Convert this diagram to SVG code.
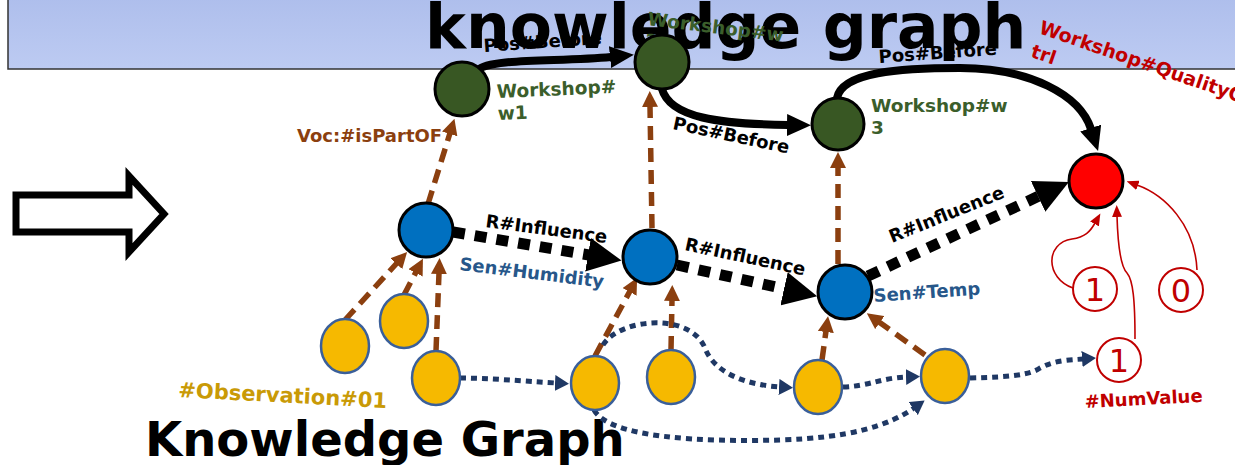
<svg xmlns="http://www.w3.org/2000/svg" width="1235" height="465" viewBox="0 0 1235 465">
  <defs>
    <linearGradient id="band" x1="0" y1="0" x2="0" y2="1">
      <stop offset="0" stop-color="#aebeec"/>
      <stop offset="1" stop-color="#bdcbf2"/>
    </linearGradient>
    <marker id="hPos" viewBox="0 0 24 22" markerWidth="24" markerHeight="22" refX="1" refY="11" orient="auto" markerUnits="userSpaceOnUse">
      <path d="M0,0 L24,11 L0,22 z" fill="#000"/>
    </marker>
    <marker id="hInf" viewBox="0 0 34 34" markerWidth="34" markerHeight="34" refX="1" refY="17" orient="auto" markerUnits="userSpaceOnUse">
      <path d="M0,0 L34,17 L0,34 z" fill="#000"/>
    </marker>
    <marker id="hPart" viewBox="0 0 16 16" markerWidth="16" markerHeight="16" refX="1" refY="8" orient="auto" markerUnits="userSpaceOnUse">
      <path d="M0,0 L16,8 L0,16 z" fill="#8b3f0f"/>
    </marker>
    <marker id="hSeq" viewBox="0 0 14 16" markerWidth="14" markerHeight="16" refX="1" refY="8" orient="auto" markerUnits="userSpaceOnUse">
      <path d="M0,0 L14,8 L0,16 z" fill="#1f3864"/>
    </marker>
    <marker id="hVal" viewBox="0 0 12 10" markerWidth="12" markerHeight="10" refX="1" refY="5" orient="auto" markerUnits="userSpaceOnUse">
      <path d="M0,0 L12,5 L0,10 z" fill="#c00000"/>
    </marker>
  </defs>
  <style>
    text { font-family: "DejaVu Sans", "Liberation Sans", sans-serif; font-weight: bold; }
    .pos { fill: none; stroke: #000; stroke-width: 8; marker-end: url(#hPos); }
    .inf { fill: none; stroke: #000; stroke-width: 11; stroke-dasharray: 12 10; marker-end: url(#hInf); }
    .part { fill: none; stroke: #8b3f0f; stroke-width: 5.5; stroke-dasharray: 14 8; marker-end: url(#hPart); }
    .seq { fill: none; stroke: #1f3864; stroke-width: 5; stroke-dasharray: 6 5; marker-end: url(#hSeq); }
    .val { fill: none; stroke: #c00000; stroke-width: 1.6; marker-end: url(#hVal); }
    .ws { fill: #385723; stroke: #000; stroke-width: 3; }
    .sen { fill: #0070c0; stroke: #000; stroke-width: 3; }
    .obs { fill: #f6b900; stroke: #3a5f9a; stroke-width: 2.5; }
    .num { fill: #fff; stroke: #c00000; stroke-width: 2; }
    .numt { fill: #c00000; font-weight: normal; font-size: 32px; text-anchor: middle; }
    .lbl { font-size: 18px; fill: #000; }
    .wsl { font-size: 18.5px; fill: #3b5e2b; }
    .senl { font-size: 18px; fill: #27578a; }
  </style>

  <!-- header band with title -->
  <rect x="8" y="-3" width="1240" height="72" fill="url(#band)" stroke="#333" stroke-width="1.5"/>
  <text x="425" y="48" font-size="61.5" fill="#000">knowledge graph</text>

  <!-- hollow block arrow -->
  <polygon points="16,195 129,195 129,176 164,214 129,252 129,232 16,232" fill="#fff" stroke="#000" stroke-width="7" stroke-linejoin="miter"/>

  <text x="145" y="456" font-size="48" fill="#000">Knowledge Graph</text>

  <!-- connectors -->
  <g id="connectors">
    <path class="pos" d="M478,70 C490,58 560,62 611,57"/>
    <path class="pos" d="M662,89 C670,118 720,124 788,125"/>
    <path class="pos" d="M837,98 C842,72 900,68 960,68 C1030,68 1080,95 1091,129"/>

    <path class="inf" d="M453,232 L589,255"/>
    <path class="inf" d="M677,265 L785,289"/>
    <path class="inf" d="M868,276 L1039,196"/>

    <path class="part" d="M428,204 L450,133"/>
    <path class="part" d="M652,228 L650,106"/>
    <path class="part" d="M838,264 L838,167"/>
    <path class="part" d="M345,320 L397,263"/>
    <path class="part" d="M404,295 L416,272"/>
    <path class="part" d="M436,351 L439,273"/>
    <path class="part" d="M595,356 L630,291"/>
    <path class="part" d="M671,350 L672,300"/>
    <path class="part" d="M822,360 L826,331"/>
    <path class="part" d="M925,355 L879,322"/>

    <path class="seq" d="M460,378 C490,378 520,381 556,383"/>
    <path class="seq" d="M603,345 C620,318 690,312 705,348 C715,375 750,385 780,387"/>
    <path class="seq" d="M594,410 C610,438 700,442 780,440 C850,438 890,425 914,408"/>
    <path class="seq" d="M843,387 C870,386 880,378 907,377"/>
    <path class="seq" d="M970,378 C1010,377 1030,375 1040,368 C1055,360 1070,360 1083,359"/>

    <path class="val" d="M1073,288 C1045,278 1045,243 1072,239 C1085,237 1090,232 1095,223"/>
    <path class="val" d="M1135,339 C1135,300 1133,280 1127,273 C1121,267 1118,250 1117,216"/>
    <path class="val" d="M1197,270 C1195,225 1165,195 1137,185"/>

    <text class="lbl" transform="translate(484,52) rotate(-4)">Pos#Before</text>
    <text class="lbl" transform="translate(672,129) rotate(12)">Pos#Before</text>
    <text class="lbl" transform="translate(879,63) rotate(-4)">Pos#Before</text>
    <text class="lbl" transform="translate(485,227) rotate(7.5)">R#Influence</text>
    <text class="lbl" transform="translate(684,250) rotate(12)">R#Influence</text>
    <text class="lbl" transform="translate(892,243) rotate(-22)">R#Influence</text>
    <text font-size="18" fill="#8b3f0f" x="297" y="142">Voc:#isPartOF</text>
  </g>

  <!-- workshop nodes -->
  <g id="w1">
    <circle class="ws" cx="462" cy="89" r="27"/>
    <text class="wsl" transform="translate(497,98) rotate(-2.5)">Workshop#<tspan x="0" dy="22">w1</tspan></text>
  </g>
  <g id="w2">
    <text class="wsl" transform="translate(647,25) rotate(7)">Workshop#w<tspan x="0" dy="22">2</tspan></text>
    <circle class="ws" cx="662" cy="62" r="27"/>
  </g>
  <g id="w3">
    <circle class="ws" cx="838" cy="124" r="26"/>
    <text class="wsl" x="871" y="112">Workshop#w<tspan x="871" dy="22">3</tspan></text>
  </g>
  <g id="quality">
    <circle cx="1096" cy="181" r="27" fill="#ff0000" stroke="#000" stroke-width="3"/>
    <text font-size="19" fill="#c00000" transform="translate(1038,33) rotate(19)">Workshop#QualityCon<tspan x="0" dy="25">trl</tspan></text>
  </g>

  <!-- sensor nodes -->
  <g id="humidity">
    <circle class="sen" cx="426" cy="230" r="27"/>
    <text class="senl" transform="translate(459,270) rotate(7)">Sen#Humidity</text>
  </g>
  <g id="sensor2">
    <circle class="sen" cx="650" cy="257" r="27"/>
  </g>
  <g id="temp">
    <circle class="sen" cx="845" cy="292" r="27"/>
    <text class="senl" transform="translate(874,302) rotate(-4)">Sen#Temp</text>
  </g>

  <!-- observation nodes -->
  <g id="obs1"><ellipse class="obs" cx="345" cy="346" rx="24" ry="27"/></g>
  <g id="obs2"><ellipse class="obs" cx="404" cy="321" rx="24" ry="27"/></g>
  <g id="obs3">
    <ellipse class="obs" cx="436" cy="378" rx="24" ry="27"/>
    <text font-size="21" fill="#c99a06" transform="translate(178,397) rotate(3)">#Observation#01</text>
  </g>
  <g id="obs4"><ellipse class="obs" cx="595" cy="383" rx="24" ry="27"/></g>
  <g id="obs5"><ellipse class="obs" cx="671" cy="377" rx="24" ry="27"/></g>
  <g id="obs6"><ellipse class="obs" cx="818" cy="387" rx="24" ry="27"/></g>
  <g id="obs7"><ellipse class="obs" cx="945" cy="376" rx="24" ry="27"/></g>

  <!-- numeric values -->
  <g id="val1">
    <circle class="num" cx="1095" cy="289" r="22"/>
    <text class="numt" x="1095" y="301">1</text>
  </g>
  <g id="val0">
    <circle class="num" cx="1181" cy="290" r="22"/>
    <text class="numt" x="1181" y="302">0</text>
  </g>
  <g id="numvalue">
    <circle class="num" cx="1119" cy="360" r="22"/>
    <text class="numt" x="1119" y="372">1</text>
    <text font-size="18" fill="#c00000" transform="translate(1085,408) rotate(-3)">#NumValue</text>
  </g>
</svg>
